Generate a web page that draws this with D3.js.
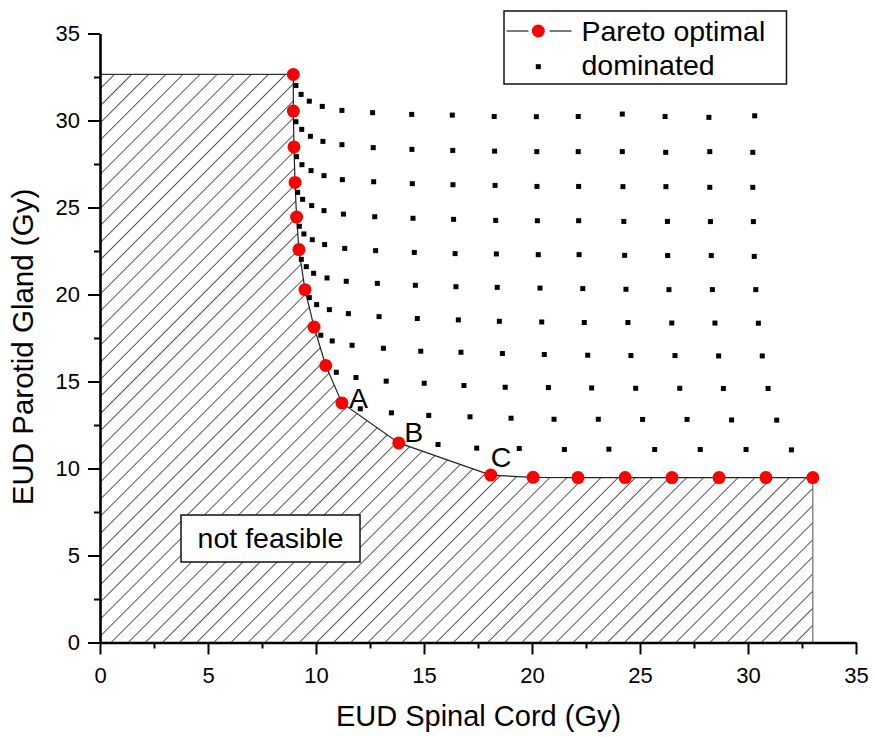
<!DOCTYPE html>
<html>
<head>
<meta charset="utf-8">
<script src="https://cdn.jsdelivr.net/npm/d3@7"></script>
<style>
  html, body { margin: 0; padding: 0; background: #fff; }
  svg { display: block; font-family: "Liberation Sans", Arial, Helvetica, sans-serif; }
</style>
</head>
<body>
<svg id="chart" width="874" height="737"></svg>
<script>
// Pareto front: EUD spinal cord (x) vs EUD parotid gland (y), in Gy
const paretoX = [8.95, 8.95, 8.98, 9.03, 9.10, 9.21, 9.49, 9.91, 10.45, 11.20, 13.83, 18.09,
                 20.05, 22.13, 24.31, 26.48, 28.66, 30.83, 33.0];
const paretoY = [32.65, 30.54, 28.48, 26.44, 24.45, 22.58, 20.28, 18.13, 15.92, 13.77, 11.47, 9.62,
                 9.49, 9.48, 9.48, 9.48, 9.48, 9.48, 9.48];

// Labelled Pareto solutions (index into the Pareto arrays)
const markLabels = ["A", "B", "C"];
const markIndex = [9, 10, 11];

// Dominated plans, one row per starting Pareto solution
const dominatedX = [
  [9.07, 9.31, 9.69, 10.29, 11.20, 12.62, 14.43, 16.31, 18.25, 20.20, 22.14, 24.18, 26.16, 28.19, 30.31],
  [9.07, 9.34, 9.74, 10.32, 11.20, 12.65, 14.44, 16.33, 18.27, 20.22, 22.14, 24.18, 26.19, 28.23, 30.22],
  [9.10, 9.35, 9.77, 10.37, 11.22, 12.67, 14.46, 16.34, 18.29, 20.23, 22.16, 24.21, 26.20, 28.23, 30.22],
  [9.15, 9.38, 9.80, 10.37, 11.27, 12.72, 14.49, 16.37, 18.32, 20.25, 22.16, 24.25, 26.27, 28.26, 30.25],
  [9.23, 9.44, 9.83, 10.40, 11.33, 12.76, 14.55, 16.44, 18.35, 20.29, 22.18, 24.29, 26.28, 28.30, 30.29],
  [9.32, 9.55, 9.89, 10.51, 11.40, 12.84, 14.60, 16.48, 18.39, 20.37, 22.35, 24.35, 26.34, 28.35, 30.36],
  [9.69, 10.03, 10.62, 11.50, 12.92, 14.69, 16.59, 18.49, 20.45, 22.42, 24.44, 26.47, 28.47, 30.48],
  [10.22, 10.75, 11.67, 13.12, 14.85, 16.71, 18.63, 20.57, 22.58, 24.58, 26.62, 28.64, 30.66],
  [10.94, 11.85, 13.25, 15.01, 16.85, 18.76, 20.76, 22.76, 24.80, 26.84, 28.86, 30.93],
  [12.05, 13.49, 15.22, 17.13, 19.03, 21.02, 23.07, 25.12, 27.18, 29.24, 31.33],
  [15.65, 17.44, 19.41, 21.50, 23.56, 25.68, 27.79, 29.91, 32.01]
];
const dominatedY = [
  [32.01, 31.50, 31.11, 30.81, 30.58, 30.45, 30.35, 30.31, 30.23, 30.22, 30.23, 30.37, 30.23, 30.18, 30.27],
  [29.93, 29.49, 29.09, 28.80, 28.61, 28.44, 28.34, 28.28, 28.24, 28.21, 28.21, 28.21, 28.17, 28.21, 28.17],
  [27.92, 27.46, 27.12, 26.83, 26.60, 26.48, 26.37, 26.31, 26.27, 26.21, 26.21, 26.20, 26.20, 26.16, 26.16],
  [25.87, 25.47, 25.11, 24.82, 24.62, 24.47, 24.38, 24.32, 24.26, 24.24, 24.24, 24.20, 24.20, 24.19, 24.19],
  [23.92, 23.48, 23.15, 22.87, 22.65, 22.52, 22.42, 22.35, 22.33, 22.29, 22.29, 22.25, 22.24, 22.24, 22.19],
  [22.02, 21.60, 21.22, 20.95, 20.76, 20.64, 20.53, 20.45, 20.41, 20.37, 20.34, 20.30, 20.28, 20.28, 20.28],
  [19.82, 19.42, 19.13, 18.90, 18.73, 18.62, 18.54, 18.46, 18.42, 18.39, 18.39, 18.36, 18.36, 18.35],
  [17.66, 17.33, 17.08, 16.91, 16.74, 16.68, 16.61, 16.55, 16.51, 16.49, 16.49, 16.47, 16.47],
  [15.53, 15.23, 15.02, 14.90, 14.77, 14.67, 14.65, 14.63, 14.61, 14.61, 14.60, 14.60],
  [13.43, 13.20, 13.05, 12.97, 12.89, 12.83, 12.83, 12.82, 12.82, 12.79, 12.78],
  [11.38, 11.17, 11.15, 11.09, 11.11, 11.09, 11.09, 11.09, 11.07]
];

// Axis ticks
const majorTicks = [0, 5, 10, 15, 20, 25, 30, 35];
const minorTicks = [2.5, 7.5, 12.5, 17.5, 22.5, 27.5, 32.5];

const svg = d3.select("#chart");
const x = d3.scaleLinear().domain([0, 35]).range([100, 856]);
const y = d3.scaleLinear().domain([0, 35]).range([642.5, 33.5]);

// Diagonal hatch for the infeasible region
const defs = svg.append("defs");
const pat = defs.append("pattern")
  .attr("id", "hatch")
  .attr("patternUnits", "userSpaceOnUse")
  .attr("width", 12.1).attr("height", 12)
  .attr("patternTransform", "rotate(45)");
pat.append("line")
  .attr("x1", 0).attr("y1", -1).attr("x2", 0).attr("y2", 13)
  .attr("stroke", "#111").attr("stroke-width", 1.4);

const pareto = paretoX.map((d, i) => [d, paretoY[i]]);
const last = pareto[pareto.length - 1];
const region = [[0, 0], [0, pareto[0][1]], ...pareto, [last[0], 0]];

svg.append("path")
  .datum(region)
  .attr("d", d3.line().x(d => x(d[0])).y(d => y(d[1])))
  .attr("fill", "url(#hatch)")
  .attr("stroke", "none");

// Region outline: top edge, right edge
svg.append("path")
  .datum([[0, pareto[0][1]], pareto[0]])
  .attr("d", d3.line().x(d => x(d[0])).y(d => y(d[1])))
  .attr("stroke", "#333").attr("stroke-width", 1.2).attr("fill", "none");
svg.append("path")
  .datum([last, [last[0], 0]])
  .attr("d", d3.line().x(d => x(d[0])).y(d => y(d[1])))
  .attr("stroke", "#777").attr("stroke-width", 1.3).attr("fill", "none");

// Pareto front line
svg.append("path")
  .datum(pareto)
  .attr("d", d3.line().x(d => x(d[0])).y(d => y(d[1])))
  .attr("stroke", "#222").attr("stroke-width", 1.2).attr("fill", "none");

// Dominated plans
const dominated = dominatedX.flatMap((row, r) => row.map((d, i) => [d, dominatedY[r][i]]));
svg.append("g").selectAll("rect")
  .data(dominated)
  .join("rect")
  .attr("x", d => x(d[0]) - 2.5)
  .attr("y", d => y(d[1]) - 2.5)
  .attr("width", 5).attr("height", 5)
  .attr("fill", "#000");

// Pareto optimal plans
svg.append("g").selectAll("circle")
  .data(pareto)
  .join("circle")
  .attr("cx", d => x(d[0]))
  .attr("cy", d => y(d[1]))
  .attr("r", 6.5)
  .attr("fill", "#ff0000");

// A / B / C labels
const labelOffset = [[7, 5], [5.5, -1], [0, -8]];
svg.append("g").selectAll("text")
  .data(markLabels)
  .join("text")
  .attr("x", (d, i) => x(paretoX[markIndex[i]]) + labelOffset[i][0])
  .attr("y", (d, i) => y(paretoY[markIndex[i]]) + labelOffset[i][1])
  .attr("font-size", 28.5)
  .attr("fill", "#000")
  .text(d => d);

// "not feasible" annotation
const nf = svg.append("g");
nf.append("rect")
  .attr("x", 181).attr("y", 515).attr("width", 179).attr("height", 47)
  .attr("fill", "#fff").attr("stroke", "#111").attr("stroke-width", 1.5);
nf.append("text")
  .attr("x", 270.5).attr("y", 547.5)
  .attr("text-anchor", "middle")
  .attr("font-size", 28.5)
  .text("not feasible");

// Axes
const xAxis = svg.append("g").attr("transform", `translate(0,${y(0)})`)
  .call(d3.axisBottom(x).tickValues(majorTicks).tickSize(12).tickSizeOuter(0).tickPadding(12.5)
    .tickFormat(d3.format("d")));
svg.append("g").attr("transform", `translate(0,${y(0)})`)
  .call(d3.axisBottom(x).tickValues(minorTicks).tickSize(6).tickSizeOuter(0).tickFormat(""))
  .select(".domain").remove();
const yAxis = svg.append("g").attr("transform", `translate(${x(0)},0)`)
  .call(d3.axisLeft(y).tickValues(majorTicks).tickSize(12).tickSizeOuter(0).tickPadding(8)
    .tickFormat(d3.format("d")));
svg.append("g").attr("transform", `translate(${x(0)},0)`)
  .call(d3.axisLeft(y).tickValues(minorTicks).tickSize(6).tickSizeOuter(0).tickFormat(""))
  .select(".domain").remove();

svg.selectAll(".domain").attr("stroke", "#000").attr("stroke-width", 2.6);
svg.selectAll(".tick line").attr("stroke", "#000").attr("stroke-width", 2);
[xAxis, yAxis].forEach(a => a.selectAll(".tick text")
  .attr("font-size", 22).attr("fill", "#000")
  .attr("font-family", "'Liberation Sans', Arial, sans-serif"));

// Axis titles
svg.append("text")
  .attr("x", 478.5).attr("y", 726)
  .attr("text-anchor", "middle")
  .attr("font-size", 29)
  .text("EUD Spinal Cord (Gy)");
svg.append("text")
  .attr("transform", "translate(33,347) rotate(-90)")
  .attr("text-anchor", "middle")
  .attr("font-size", 29.5)
  .text("EUD Parotid Gland (Gy)");

// Legend
const lg = svg.append("g");
lg.append("rect")
  .attr("x", 504).attr("y", 11).attr("width", 282.5).attr("height", 73)
  .attr("fill", "#fff").attr("stroke", "#111").attr("stroke-width", 1.5);
[[506.5, 528.5], [549.5, 571.5]].forEach(([a, b]) => lg.append("line")
  .attr("x1", a).attr("x2", b).attr("y1", 31).attr("y2", 31)
  .attr("stroke", "#222").attr("stroke-width", 1.2));
lg.append("circle").attr("cx", 538.3).attr("cy", 31).attr("r", 6.5).attr("fill", "#ff0000");
lg.append("rect").attr("x", 535.8).attr("y", 64.2).attr("width", 5).attr("height", 5).attr("fill", "#000");
lg.append("text").attr("x", 581.5).attr("y", 40.5).attr("font-size", 28.5).text("Pareto optimal");
lg.append("text").attr("x", 581.5).attr("y", 75).attr("font-size", 28.5).text("dominated");
</script>
</body>
</html>
